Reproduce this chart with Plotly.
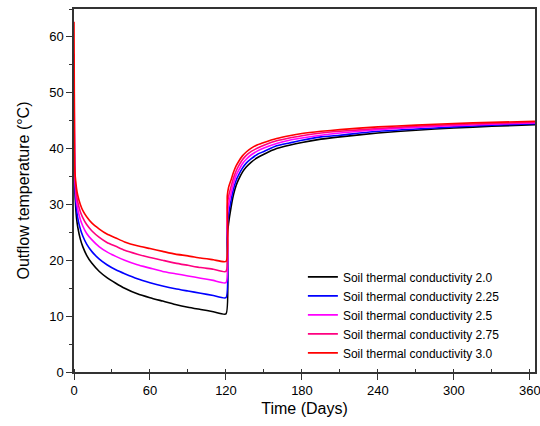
import plotly.graph_objects as go

# time axis (days): heat extraction period 0-120, recovery period 121-364
t_ext = [0, 0.5, 1, 2, 3, 5, 7, 10, 14, 20, 26, 33, 40, 50, 60, 70, 80, 90, 100, 110, 120]
t_rec = [121, 122, 124, 126, 128, 130, 133, 136, 140, 145, 150, 160, 170, 180, 195, 210, 240, 270, 300, 330, 364]

k20_ext = [42.0, 34.5, 31.0, 27.6, 25.9, 23.8, 22.4, 20.9, 19.5, 18.0, 16.9, 15.9, 15.0, 14.0, 13.3, 12.7, 12.1, 11.6, 11.2, 10.8, 10.4]
k225_ext = [47.0, 35.2, 32.2, 29.1, 27.5, 25.6, 24.3, 22.9, 21.6, 20.2, 19.2, 18.3, 17.6, 16.7, 16.0, 15.4, 14.9, 14.5, 14.1, 13.7, 13.3]
k25_ext = [52.0, 35.8, 33.3, 30.5, 29.1, 27.3, 26.1, 24.8, 23.7, 22.4, 21.5, 20.7, 20.0, 19.2, 18.6, 18.0, 17.6, 17.2, 16.8, 16.4, 16.0]
k275_ext = [57.0, 36.4, 34.2, 31.7, 30.4, 28.7, 27.6, 26.4, 25.3, 24.1, 23.2, 22.5, 21.8, 21.1, 20.5, 20.0, 19.5, 19.1, 18.7, 18.4, 18.0]
k30_ext = [62.7, 37.0, 35.0, 32.9, 31.6, 30.0, 28.9, 27.8, 26.7, 25.6, 24.7, 24.0, 23.3, 22.6, 22.1, 21.6, 21.1, 20.8, 20.4, 20.1, 19.8]

k20_rec = [24.0, 26.5, 29.5, 31.8, 33.4, 34.5, 35.8, 36.7, 37.6, 38.4, 39.0, 40.0, 40.6, 41.1, 41.7, 42.1, 42.8, 43.3, 43.7, 44.0, 44.3]
k225_rec = [25.9, 28.1, 30.7, 32.8, 34.3, 35.3, 36.5, 37.4, 38.2, 39.0, 39.5, 40.5, 41.0, 41.5, 42.1, 42.4, 43.1, 43.5, 43.9, 44.2, 44.45]
k25_rec = [27.8, 29.8, 32.0, 33.8, 35.2, 36.1, 37.3, 38.1, 38.9, 39.6, 40.1, 40.9, 41.5, 41.9, 42.4, 42.8, 43.4, 43.8, 44.1, 44.35, 44.6]
k275_rec = [29.6, 31.4, 33.2, 34.8, 36.0, 36.9, 38.0, 38.8, 39.5, 40.1, 40.6, 41.4, 41.9, 42.3, 42.8, 43.1, 43.6, 44.0, 44.3, 44.5, 44.75]
k30_rec = [31.5, 33.0, 34.4, 35.8, 36.9, 37.7, 38.7, 39.4, 40.1, 40.7, 41.1, 41.8, 42.3, 42.7, 43.1, 43.4, 43.9, 44.2, 44.5, 44.7, 44.9]

labels = ['Soil thermal conductivity 2.0', 'Soil thermal conductivity 2.25',
          'Soil thermal conductivity 2.5', 'Soil thermal conductivity 2.75',
          'Soil thermal conductivity 3.0']
colors = ['#000000', '#0000ff', '#ff00ff', '#ff0080', '#ff0000']

series = [(k20_ext, k20_rec), (k225_ext, k225_rec), (k25_ext, k25_rec),
          (k275_ext, k275_rec), (k30_ext, k30_rec)]

fig = go.Figure()
for (ext, rec), name, col in zip(series, labels, colors):
    fig.add_trace(go.Scatter(
        x=t_ext + t_rec,
        y=ext + rec,
        mode='lines',
        name=name,
        line=dict(color=col, width=1.6, shape='spline', smoothing=0.5),
    ))

font_name = 'Liberation Sans, Arial, sans-serif'
axis_font = dict(family=font_name, size=13, color='#000000')

fig.update_xaxes(
    range=[0, 364], tickvals=[0, 60, 120, 180, 240, 300, 360],
    ticks='outside', ticklen=6, tickwidth=1.2, tickcolor='#333333',
    minor=dict(dtick=30, tick0=0, ticks='inside', ticklen=3, tickcolor='#333333', showgrid=False),
    showline=True, linecolor='#333333', linewidth=1.5, mirror=True,
    showgrid=False, zeroline=False, tickfont=axis_font, automargin=False,
    ticklabeloverflow='allow',
    title=dict(text='Time (Days)', font=dict(family=font_name, size=16, color='#000000'), standoff=5),
)
fig.update_yaxes(
    range=[0, 65], tickvals=[0, 10, 20, 30, 40, 50, 60],
    ticks='outside', ticklen=6, tickwidth=1.2, tickcolor='#333333',
    minor=dict(dtick=5, tick0=0, ticks='outside', ticklen=3, tickcolor='#333333', showgrid=False),
    showline=True, linecolor='#333333', linewidth=1.5, mirror=True,
    showgrid=False, zeroline=False, tickfont=axis_font, automargin=False,
    title=dict(text='Outflow temperature (°C)', font=dict(family=font_name, size=16, color='#000000'), standoff=16),
)

fig.update_layout(
    width=540, height=426,
    margin=dict(l=74, r=5, t=9, b=54),
    paper_bgcolor='white', plot_bgcolor='white',
    legend=dict(x=0.4965, y=0.302, xanchor='left', yanchor='top',
                bgcolor='rgba(0,0,0,0)', borderwidth=0,
                font=dict(family=font_name, size=12, color='#000000'),
                tracegroupgap=0, itemwidth=30),
)

# drop the page's default body margin so the figure sits at the window corner
fig.write_html("out.html", config={'displayModeBar': False},
               post_script="document.body.style.margin='0';document.body.style.overflow='hidden';")
